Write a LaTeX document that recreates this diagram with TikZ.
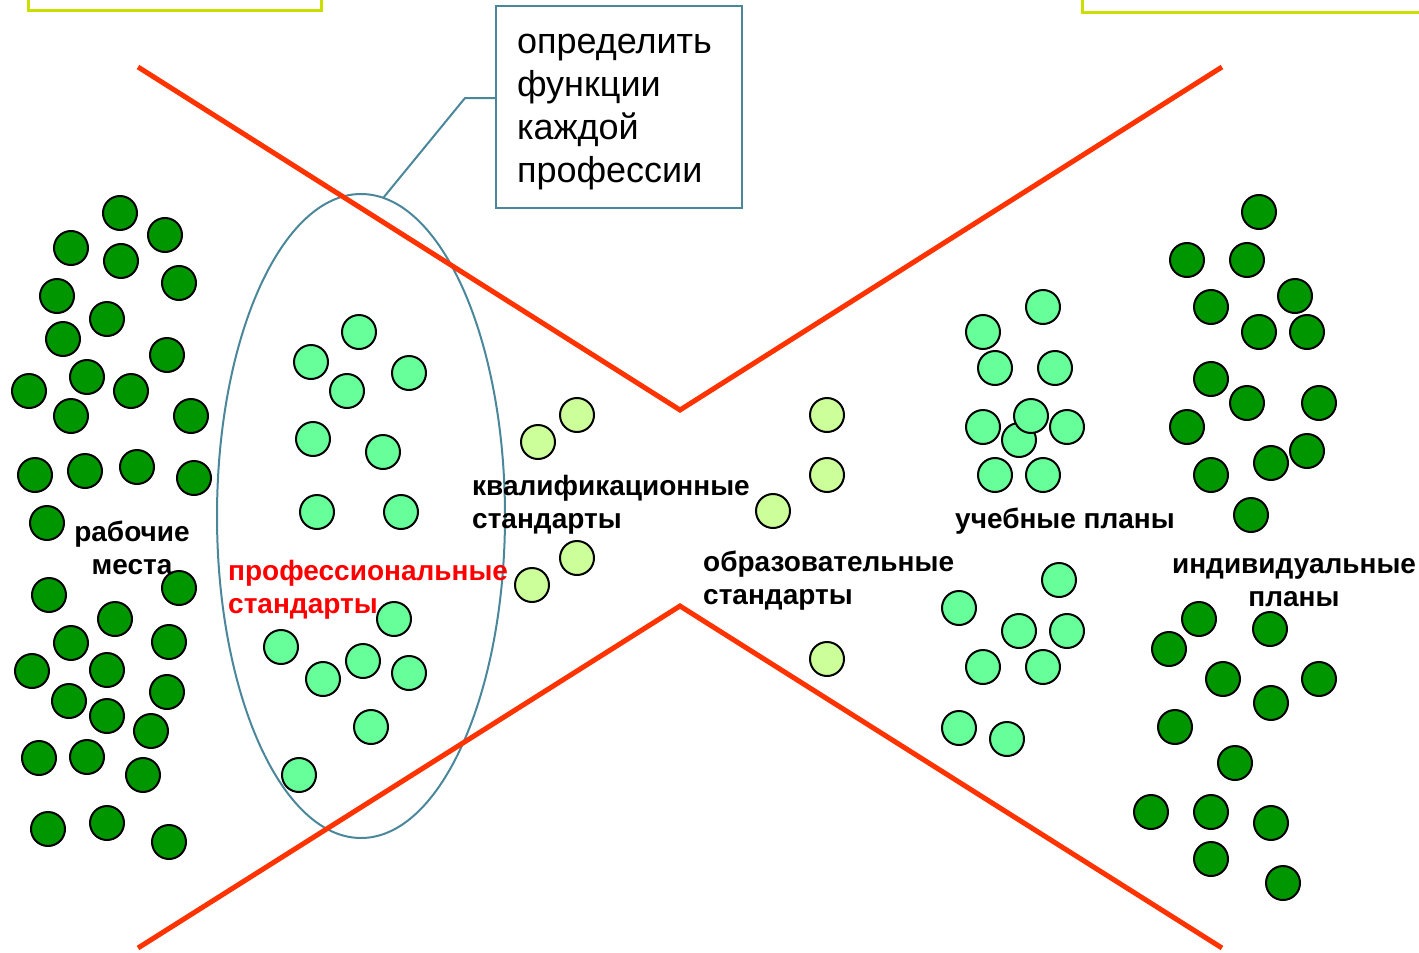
\documentclass[tikz,border=0pt]{standalone}
\usepackage{fontspec}
\setmainfont{Liberation Sans}
\usetikzlibrary{shapes.geometric}
\definecolor{darkdot}{RGB}{0,150,0}
\definecolor{lightdot}{RGB}{102,255,153}
\definecolor{paledot}{RGB}{204,255,153}
\definecolor{crossred}{RGB}{255,51,0}
\definecolor{tealline}{RGB}{75,135,155}
\definecolor{framegreen}{RGB}{204,221,0}
\tikzset{
  dot/.style={circle, draw=black, line width=2pt, minimum size=34pt, inner sep=0pt},
  wdot/.style={dot, fill=darkdot},
  ldot/.style={dot, fill=lightdot},
  pdot/.style={dot, fill=paledot},
  crossline/.style={crossred, line width=5pt},
  lbl/.style={font=\bfseries\fontsize{28}{33}\selectfont, inner sep=0pt, align=left}
}
\begin{document}
\begin{tikzpicture}[x=1pt, y=-1pt]
      \useasboundingbox (0,0) rectangle (1419,953);
      % Cut-off frames at the top
      \draw[framegreen, line width=3pt] (28,-30) rectangle (321,10);
      \draw[framegreen, line width=3pt] (1082,-30) rectangle (1440,12);
      % Ellipse and its callout
      \node[ellipse, draw=tealline, line width=2pt, minimum width=288pt, minimum height=644pt, inner sep=0pt, outer sep=0pt] (prof) at (361,516) {};
      \node[draw=tealline, line width=2pt, minimum width=246pt, minimum height=202pt, text width=204pt, align=left, inner sep=0pt, font=\fontsize{36}{43}\selectfont] (task) at (619,107) {\rule{0pt}{30pt}определить\\функции\\каждой\\профессии};
      \coordinate (knee) at (465,98);
      \draw[tealline, line width=2pt] (prof.86) -- (knee) -- (task.west |- knee);
      % Draw the cross
      \draw[crossline] (138,67) -- (680,410) -- (1222,67);
      \draw[crossline] (138,948) -- (680,606) -- (1222,948);
      % Workplaces
      \foreach [count=\i] \x/\y in {120/213, 165/235, 71/248, 121/261, 179/283, 57/296, 107/319, 63/339, 167/355, 87/377, 29/391, 131/391, 71/416, 191/416, 35/475, 85/471, 137/467, 194/478, 47/523, 49/595, 179/588, 115/619, 71/643, 169/642, 32/671, 107/670, 69/701, 167/692, 107/716, 151/731, 39/758, 87/757, 143/775, 48/829, 107/823, 169/842}
        \node[wdot] (w\i) at (\x,\y) {};
      % Professional standards
      \foreach [count=\i] \x/\y in {359/332, 311/362, 409/373, 347/391, 313/439, 383/452, 317/512, 401/512, 394/619, 281/647, 363/661, 323/679, 409/673, 371/727, 299/775}
        \node[ldot] (p\i) at (\x,\y) {};
      % Qualification and educational standards
      \foreach [count=\i] \x/\y in {577/415, 538/442, 577/558, 532/585, 827/415, 827/475, 773/511, 827/659}
        \node[pdot] (q\i) at (\x,\y) {};
      % Curricula
      \foreach [count=\i] \x/\y in {1043/307, 983/332, 995/368, 1055/368, 983/427, 1019/440, 1031/416, 1067/427, 995/475, 1043/475, 1059/580, 959/608, 1019/631, 1067/631, 983/667, 1043/667, 959/728, 1007/739}
        \node[ldot] (c\i) at (\x,\y) {};
      % Individual plans
      \foreach [count=\i] \x/\y in {1259/212, 1187/260, 1247/260, 1295/296, 1211/307, 1259/332, 1307/332, 1211/379, 1247/403, 1319/403, 1187/427, 1307/451, 1271/463, 1211/475, 1251/515, 1199/619, 1270/629, 1169/649, 1223/679, 1319/679, 1271/703, 1175/727, 1235/763, 1151/812, 1211/812, 1271/823, 1211/859, 1283/883}
        \node[wdot] (i\i) at (\x,\y) {};
      % Labels
      \node[lbl, align=center] (workplaces) at (132,548) {рабочие\\места};
      \node[lbl, text=red, anchor=west] (profstd) at (228,590) {профессиональные\\стандарты};
      \node[lbl, anchor=west] (qualstd) at (472,505) {квалификационные\\стандарты};
      \node[lbl, anchor=west] (edustd) at (703,581) {образовательные\\стандарты};
      \node[lbl, anchor=west] (curric) at (955,521) {учебные планы};
      \node[lbl, align=center] (indiv) at (1294,583) {индивидуальные\\планы};
\end{tikzpicture}
\end{document}
